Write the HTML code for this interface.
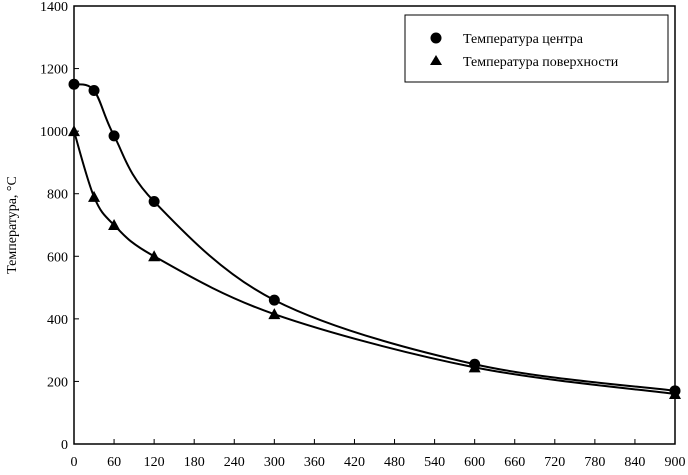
<!DOCTYPE html>
<html><head><meta charset="utf-8"><style>
body{margin:0;background:#fff}
svg text{font-family:"Liberation Serif","DejaVu Serif",serif;fill:#000}
</style></head><body>
<svg id="chart" width="688" height="470" xmlns="http://www.w3.org/2000/svg">
<rect x="74" y="6" width="601" height="438" fill="none" stroke="#000" stroke-width="1.5"/>
<g id="axes"></g>
<g id="series"></g>
<text transform="translate(16,225) rotate(-90)" text-anchor="middle" font-size="14">Температура, °С</text>
<g>
<rect x="405" y="15" width="263" height="67" fill="#fff" stroke="#000" stroke-width="1"/>
<circle cx="436" cy="38" r="5.5" fill="#000"/>
<text x="463" y="43" font-size="14">Температура центра</text>
<polygon points="436,55 442,65 430,65" fill="#000"/>
<text x="463" y="66" font-size="14">Температура поверхности</text>
</g>
</svg>
<script>
const times=[0,30,60,120,300,600,900];
const centerTemps=[1150,1130,985,775,460,255,170];
const surfaceTemps=[1000,790,700,600,415,245,160];
const xTicks=[0,60,120,180,240,300,360,420,480,540,600,660,720,780,840,900];
const yTicks=[0,200,400,600,800,1000,1200,1400];
const X0=74,X1=675,Y0=444,Y1=6;
const sx=v=>X0+(v/900)*(X1-X0);
const sy=v=>Y0-(v/1400)*(Y0-Y1);
const NS="http://www.w3.org/2000/svg";
const axes=document.getElementById('axes'),ser=document.getElementById('series');
function mk(t,a,p){const e=document.createElementNS(NS,t);for(const k in a)e.setAttribute(k,a[k]);p.appendChild(e);return e;}
xTicks.forEach(v=>{
 const l=mk('line',{x1:sx(v),x2:sx(v),y1:Y0,y2:Y0-5,stroke:'#000','stroke-width':1},axes);
 
 
 const t=mk('text',{x:sx(v),y:466,'text-anchor':'middle','font-size':14},axes);t.textContent=v;
 
 
});
yTicks.forEach(v=>{
 const l=mk('line',{x1:X0,x2:X0+5,y1:sy(v),y2:sy(v),stroke:'#000','stroke-width':1},axes);
 
 
 const t=mk('text',{x:68,y:sy(v)+5,'text-anchor':'end','font-size':14},axes);t.textContent=v;
 
 
});
function curve(vals){
 const p=times.map((t,i)=>[sx(t),sy(vals[i])]);
 let d='M'+p[0][0]+','+p[0][1];
 for(let i=0;i<p.length-1;i++){
  const a=p[i-1]||p[i],b=p[i],c=p[i+1],e=p[i+2]||c;
  const c1=[b[0]+(c[0]-a[0])/6,b[1]+(c[1]-a[1])/6],c2=[c[0]-(e[0]-b[0])/6,c[1]-(e[1]-b[1])/6];
  d+=` C${c1[0]},${c1[1]} ${c2[0]},${c2[1]} ${c[0]},${c[1]}`;
 }
 return d;
}
const pc=mk('path',{d:curve(centerTemps),fill:'none',stroke:'#000','stroke-width':2},ser);


const ps=mk('path',{d:curve(surfaceTemps),fill:'none',stroke:'#000','stroke-width':2},ser);


times.forEach((t,i)=>{
 const c=mk('circle',{cx:sx(t),cy:sy(centerTemps[i]),r:5.5,fill:'#000'},ser);
 
 
 const x=sx(t),y=sy(surfaceTemps[i]);
 const tr=mk('polygon',{points:`${x},${y-6} ${x+6},${y+5} ${x-6},${y+5}`,fill:'#000'},ser);
 
 
});
</script>
</body></html>
